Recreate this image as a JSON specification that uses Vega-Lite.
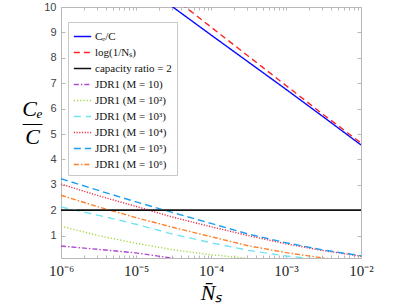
{
  "$schema": "https://vega.github.io/schema/vega-lite/v6.json",
  "autosize": "none",
  "width": 300,
  "height": 251,
  "padding": {"left": 61, "top": 7, "right": 34, "bottom": 47},
  "background": "white",
  "config": {
    "view": {"stroke": null},
    "axis": {"domainColor": "#b8b8b8", "tickColor": "#b8b8b8", "grid": false}
  },
  "data": {"values": [
    {"s": "Cₑ/C", "n": 2.5e-5, "v": 10.2},
    {"s": "Cₑ/C", "n": 3.162e-5, "v": 9.98},
    {"s": "Cₑ/C", "n": 1e-4, "v": 8.90},
    {"s": "Cₑ/C", "n": 3.162e-4, "v": 7.83},
    {"s": "Cₑ/C", "n": 1e-3, "v": 6.76},
    {"s": "Cₑ/C", "n": 3.162e-3, "v": 5.67},
    {"s": "Cₑ/C", "n": 1e-2, "v": 4.57},
    {"s": "log(1/Nₛ)", "n": 4e-5, "v": 10.13},
    {"s": "log(1/Nₛ)", "n": 1e-4, "v": 9.21},
    {"s": "log(1/Nₛ)", "n": 3.162e-4, "v": 8.06},
    {"s": "log(1/Nₛ)", "n": 1e-3, "v": 6.91},
    {"s": "log(1/Nₛ)", "n": 3.162e-3, "v": 5.76},
    {"s": "log(1/Nₛ)", "n": 1e-2, "v": 4.65},
    {"s": "capacity ratio = 2", "n": 1e-6, "v": 2},
    {"s": "capacity ratio = 2", "n": 1e-2, "v": 2},
    {"s": "JDR1 (M = 10)", "n": 1e-6, "v": 0.59},
    {"s": "JDR1 (M = 10)", "n": 3.162e-6, "v": 0.46},
    {"s": "JDR1 (M = 10)", "n": 1e-5, "v": 0.32},
    {"s": "JDR1 (M = 10)", "n": 2.5e-5, "v": 0.15},
    {"s": "JDR1 (M = 10)", "n": 4e-5, "v": 0.05},
    {"s": "JDR1 (M = 10²)", "n": 1e-6, "v": 1.37},
    {"s": "JDR1 (M = 10²)", "n": 3.162e-6, "v": 1.0},
    {"s": "JDR1 (M = 10²)", "n": 1e-5, "v": 0.70},
    {"s": "JDR1 (M = 10²)", "n": 3.162e-5, "v": 0.44},
    {"s": "JDR1 (M = 10²)", "n": 1e-4, "v": 0.25},
    {"s": "JDR1 (M = 10²)", "n": 3.162e-4, "v": 0.10},
    {"s": "JDR1 (M = 10²)", "n": 5e-4, "v": 0.05},
    {"s": "JDR1 (M = 10³)", "n": 1e-6, "v": 2.13},
    {"s": "JDR1 (M = 10³)", "n": 3.162e-6, "v": 1.80},
    {"s": "JDR1 (M = 10³)", "n": 1e-5, "v": 1.45},
    {"s": "JDR1 (M = 10³)", "n": 3.162e-5, "v": 1.05},
    {"s": "JDR1 (M = 10³)", "n": 1e-4, "v": 0.72},
    {"s": "JDR1 (M = 10³)", "n": 3.162e-4, "v": 0.42},
    {"s": "JDR1 (M = 10³)", "n": 1e-3, "v": 0.20},
    {"s": "JDR1 (M = 10³)", "n": 2.5e-3, "v": 0.08},
    {"s": "JDR1 (M = 10⁴)", "n": 1e-6, "v": 3.03},
    {"s": "JDR1 (M = 10⁴)", "n": 3.162e-6, "v": 2.57},
    {"s": "JDR1 (M = 10⁴)", "n": 1e-5, "v": 2.15},
    {"s": "JDR1 (M = 10⁴)", "n": 3.162e-5, "v": 1.72},
    {"s": "JDR1 (M = 10⁴)", "n": 1e-4, "v": 1.35},
    {"s": "JDR1 (M = 10⁴)", "n": 3.162e-4, "v": 1.00},
    {"s": "JDR1 (M = 10⁴)", "n": 1e-3, "v": 0.68},
    {"s": "JDR1 (M = 10⁴)", "n": 3.162e-3, "v": 0.41},
    {"s": "JDR1 (M = 10⁴)", "n": 1e-2, "v": 0.19},
    {"s": "JDR1 (M = 10⁵)", "n": 1e-6, "v": 3.24},
    {"s": "JDR1 (M = 10⁵)", "n": 3.162e-6, "v": 2.78},
    {"s": "JDR1 (M = 10⁵)", "n": 1e-5, "v": 2.33},
    {"s": "JDR1 (M = 10⁵)", "n": 3.162e-5, "v": 1.90},
    {"s": "JDR1 (M = 10⁵)", "n": 1e-4, "v": 1.48},
    {"s": "JDR1 (M = 10⁵)", "n": 3.162e-4, "v": 1.06},
    {"s": "JDR1 (M = 10⁵)", "n": 1e-3, "v": 0.72},
    {"s": "JDR1 (M = 10⁵)", "n": 3.162e-3, "v": 0.43},
    {"s": "JDR1 (M = 10⁵)", "n": 1e-2, "v": 0.21},
    {"s": "JDR1 (M = 10⁶)", "n": 1e-6, "v": 2.59},
    {"s": "JDR1 (M = 10⁶)", "n": 3.162e-6, "v": 2.13},
    {"s": "JDR1 (M = 10⁶)", "n": 1e-5, "v": 1.71},
    {"s": "JDR1 (M = 10⁶)", "n": 3.162e-5, "v": 1.32},
    {"s": "JDR1 (M = 10⁶)", "n": 1e-4, "v": 0.96},
    {"s": "JDR1 (M = 10⁶)", "n": 3.162e-4, "v": 0.60},
    {"s": "JDR1 (M = 10⁶)", "n": 1e-3, "v": 0.33},
    {"s": "JDR1 (M = 10⁶)", "n": 3.162e-3, "v": 0.12},
    {"s": "JDR1 (M = 10⁶)", "n": 5e-3, "v": 0.05}
  ]},
  "layer": [
    {
      "mark": {"type": "line", "strokeWidth": 1.4, "clip": true},
      "encoding": {
        "x": {"field": "n", "type": "quantitative",
          "scale": {"type": "log", "domain": [1e-6, 1e-2], "nice": false},
          "axis": {"orient": "bottom", "title": "N̄ₛ", "titleFont": "Liberation Serif", "titleFontStyle": "italic", "titleFontWeight": "normal", "titleFontSize": 22, "titlePadding": 4,
            "values": [1e-6,2e-6,3e-6,4e-6,5e-6,6e-6,7e-6,8e-6,9e-6,1e-5,2e-5,3e-5,4e-5,5e-5,6e-5,7e-5,8e-5,9e-5,1e-4,2e-4,3e-4,4e-4,5e-4,6e-4,7e-4,8e-4,9e-4,1e-3,2e-3,3e-3,4e-3,5e-3,6e-3,7e-3,8e-3,9e-3,1e-2],
            "labelExpr": "datum.value == 1e-6 ? '10⁻⁶' : datum.value == 1e-5 ? '10⁻⁵' : datum.value == 1e-4 ? '10⁻⁴' : datum.value == 1e-3 ? '10⁻³' : datum.value == 1e-2 ? '10⁻²' : ''",
            "labelFont": "Liberation Serif", "labelFontSize": 15, "labelColor": "#222", "labelOverlap": false, "labelFlush": false,
            "tickSize": -3, "labelPadding": 8}},
        "y": {"field": "v", "type": "quantitative",
          "scale": {"domain": [0.12, 10], "nice": false, "zero": false},
          "axis": {"orient": "left", "values": [1,2,3,4,5,6,7,8,9,10], "labelFont": "Liberation Sans", "labelFontSize": 11, "labelColor": "#444",
            "tickSize": -4, "labelPadding": 9,
            "title": ["Cₑ", "—", "C"], "titleAngle": 0, "titleFont": "Liberation Serif", "titleFontStyle": "italic", "titleFontWeight": "normal", "titleFontSize": 22, "titleLineHeight": 14, "titleX": -29, "titleY": 108, "titleAlign": "center", "titleBaseline": "alphabetic"}},
        "color": {"field": "s", "type": "nominal",
          "scale": {"domain": ["Cₑ/C", "log(1/Nₛ)", "capacity ratio = 2", "JDR1 (M = 10)", "JDR1 (M = 10²)", "JDR1 (M = 10³)", "JDR1 (M = 10⁴)", "JDR1 (M = 10⁵)", "JDR1 (M = 10⁶)"],
            "range": ["#0a0aff", "#ff2020", "#111111", "#b048d0", "#a0d840", "#70e4f0", "#e8334d", "#1e9ef0", "#ff7f2a"]},
          "legend": {"title": null, "orient": "none", "legendX": 7, "legendY": 15, "fillColor": "white", "strokeColor": "#c8c8c8", "padding": 5,
            "labelFont": "Liberation Serif", "labelFontSize": 11, "labelColor": "#111", "symbolType": "stroke", "symbolSize": 300, "symbolStrokeWidth": 1.5, "rowPadding": 1, "labelOffset": 3, "labelLimit": 200}},
        "strokeDash": {"field": "s", "type": "nominal",
          "scale": {"domain": ["Cₑ/C", "log(1/Nₛ)", "capacity ratio = 2", "JDR1 (M = 10)", "JDR1 (M = 10²)", "JDR1 (M = 10³)", "JDR1 (M = 10⁴)", "JDR1 (M = 10⁵)", "JDR1 (M = 10⁶)"],
            "range": [[1,0], [6,4], [1,0], [5,2,1.5,2], [1.2,2], [7,5], [1.2,1.5], [7,4], [5,2,1.5,2]]},
          "legend": {"title": null}}
      }
    },
    {
      "transform": [{"filter": "datum.s == 'capacity ratio = 2'"}],
      "mark": {"type": "line", "strokeWidth": 1.4, "clip": true, "color": "#111111"},
      "encoding": {
        "x": {"field": "n", "type": "quantitative",
          "axis": {"orient": "top", "title": null, "labels": false, "tickSize": -3,
            "values": [1e-6,2e-6,3e-6,4e-6,5e-6,6e-6,7e-6,8e-6,9e-6,1e-5,2e-5,3e-5,4e-5,5e-5,6e-5,7e-5,8e-5,9e-5,1e-4,2e-4,3e-4,4e-4,5e-4,6e-4,7e-4,8e-4,9e-4,1e-3,2e-3,3e-3,4e-3,5e-3,6e-3,7e-3,8e-3,9e-3,1e-2]}},
        "y": {"field": "v", "type": "quantitative",
          "axis": {"orient": "right", "title": null, "labels": false, "tickSize": -4, "values": [1,2,3,4,5,6,7,8,9,10]}}
      }
    }
  ],
  "resolve": {"axis": {"x": "independent", "y": "independent"}}
}
